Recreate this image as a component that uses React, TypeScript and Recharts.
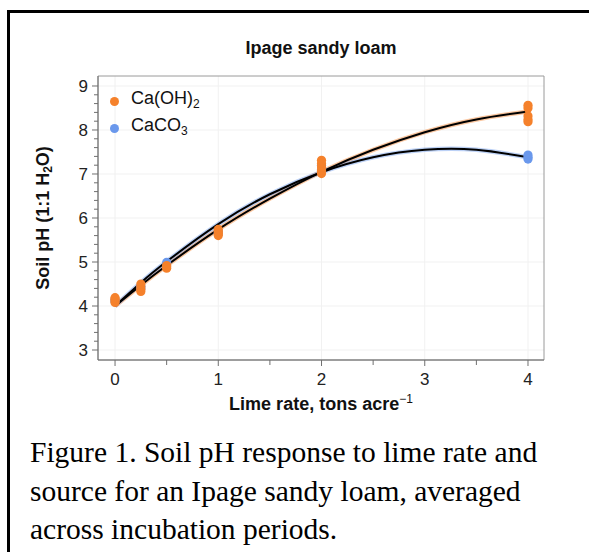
import React from "react";
import {
  CartesianGrid,
  ComposedChart,
  Line,
  ReferenceArea,
  Scatter,
  XAxis,
  YAxis
} from "recharts";

// lime rates (tons/acre) and replicate pH readings
const limeRates = [0, 0.25, 0.5, 1, 2, 4];
const caohReps = [
  [4.08, 4.12, 4.16, 4.19],
  [4.33, 4.38, 4.44, 4.5],
  [4.86, 4.89, 4.92],
  [5.6, 5.64, 5.69, 5.74],
  [7.01, 7.08, 7.16, 7.24, 7.31],
  [8.19, 8.24, 8.32, 8.5, 8.56]
];
const caco3Reps = [
  [4.1, 4.15],
  [4.4, 4.45],
  [4.99],
  [5.65, 5.7],
  [7.1, 7.2],
  [7.34, 7.38, 7.43]
];

// fitted curves
const fitRates = [0, 0.25, 0.5, 1, 1.5, 2, 2.5, 3, 3.5, 4];
const caohFit = [4.0, 4.47, 4.92, 5.74, 6.44, 7.05, 7.55, 7.95, 8.24, 8.42];
const caco3Fit = [4.0, 4.53, 5.01, 5.86, 6.54, 7.04, 7.38, 7.55, 7.55, 7.38];

const xMajor = [0, 1, 2, 3, 4];
const xTicks = [0, 0.5, 1, 1.5, 2, 2.5, 3, 3.5, 4];
const yMajor = [3, 4, 5, 6, 7, 8, 9];
const yTicks = [3, 3.2, 3.4, 3.6, 3.8, 4, 4.2, 4.4, 4.6, 4.8, 5, 5.2, 5.4, 5.6, 5.8, 6, 6.2, 6.4, 6.6, 6.8, 7, 7.2, 7.4, 7.6, 7.8, 8, 8.2, 8.4, 8.6, 8.8, 9];

const ORANGE = "#F5812B";
const BLUE = "#6A98EC";
const AXIS = "#6f6f6f";
const FONT = "'Liberation Sans', Arial, sans-serif";

const toPoints = (reps: number[][]) =>
  reps.flatMap((vals, i) => vals.map((y) => ({ x: limeRates[i], y })));
const toCurve = (vals: number[]) => fitRates.map((x, i) => ({ x, y: vals[i] }));

const caohPoints = toPoints(caohReps);
const caco3Points = toPoints(caco3Reps);
const caohCurve = toCurve(caohFit);
const caco3Curve = toCurve(caco3Fit);

const isMajor = (v: number, majors: number[]) => majors.some((m) => Math.abs(m - v) < 1e-6);

const YTick = (props: any) => {
  const { x, y, payload } = props;
  const major = isMajor(payload.value, yMajor);
  return (
    <g>
      <line x1={x - (major ? 6 : 4)} x2={x} y1={y} y2={y} stroke={AXIS} strokeWidth={1} />
      {major && (
        <text x={x - 10} y={y} dy={6} textAnchor="end" style={{ fontSize: 17, fontFamily: FONT }} fill="#222">
          {payload.value}
        </text>
      )}
    </g>
  );
};

const XTick = (props: any) => {
  const { x, y, payload } = props;
  const major = isMajor(payload.value, xMajor);
  return (
    <g>
      <line x1={x} x2={x} y1={y} y2={y + (major ? 6 : 5)} stroke={AXIS} strokeWidth={1} />
      {major && (
        <text x={x} y={y + 25} textAnchor="middle" style={{ fontSize: 17, fontFamily: FONT }} fill="#222">
          {payload.value}
        </text>
      )}
    </g>
  );
};

const dot = (color: string) => (p: any) => <circle cx={p.cx} cy={p.cy} r={4.6} fill={color} />;

export default function App() {
  return (
    <div style={{ position: "absolute", left: 0, top: 0, width: 589, height: 552, background: "#fff", overflow: "hidden" }}>
      <div
        style={{
          position: "absolute",
          left: 7,
          top: 10,
          width: 600,
          height: 560,
          borderLeft: "3px solid #000",
          borderTop: "3px solid #000"
        }}
      />
      <div style={{ position: "absolute", left: 0, top: 0 }}>
        <ComposedChart width={589} height={420} margin={{ top: 76, right: 45, left: 58, bottom: 30 }}>
          <CartesianGrid
            stroke="#f1f1f1"
            horizontalValues={yMajor}
            verticalValues={xMajor}
          />
          <ReferenceArea x1={-0.165} x2={4.155} y1={2.773} y2={9.227} fill="none" stroke="#9a9a9a" strokeWidth={1} />
          <XAxis
            type="number"
            dataKey="x"
            domain={[-0.165, 4.155]}
            ticks={xTicks}
            allowDataOverflow
            height={30}
            tickSize={0}
            tickMargin={0}
            tickLine={false}
            stroke={AXIS}
            tick={<XTick />}
            interval={0}
          />
          <YAxis
            type="number"
            dataKey="y"
            domain={[2.773, 9.227]}
            ticks={yTicks}
            allowDataOverflow
            width={40}
            tickSize={0}
            tickMargin={0}
            tickLine={false}
            stroke={AXIS}
            tick={<YTick />}
            interval={0}
          />
          <Scatter data={caco3Points} dataKey="y" shape={dot(BLUE)} isAnimationActive={false} />
          <Scatter data={caohPoints} dataKey="y" shape={dot(ORANGE)} isAnimationActive={false} />
          <Line data={caohCurve} dataKey="y" type="natural" stroke={ORANGE} strokeOpacity={0.45} strokeWidth={4.5} dot={false} activeDot={false} isAnimationActive={false} />
          <Line data={caco3Curve} dataKey="y" type="natural" stroke={BLUE} strokeOpacity={0.45} strokeWidth={4.5} dot={false} activeDot={false} isAnimationActive={false} />
          <Line data={caohCurve} dataKey="y" type="natural" stroke="#000" strokeWidth={2} dot={false} activeDot={false} isAnimationActive={false} />
          <Line data={caco3Curve} dataKey="y" type="natural" stroke="#000" strokeWidth={2} dot={false} activeDot={false} isAnimationActive={false} />
        </ComposedChart>
      </div>

      {/* title */}
      <div style={{ position: "absolute", left: 0, width: 642, top: 38, textAlign: "center", fontFamily: FONT, fontWeight: "bold", fontSize: 18, color: "#111" }}>
        Ipage sandy loam
      </div>

      {/* legend */}
      <div style={{ position: "absolute", left: 110, top: 88, fontFamily: FONT, fontSize: 18, color: "#111", lineHeight: "21px" }}>
        <div style={{ display: "flex", alignItems: "center" }}>
          <span style={{ display: "inline-block", width: 9, height: 9, borderRadius: 5, background: ORANGE, marginRight: 12 }} />
          <span>Ca(OH)<sub style={{ fontSize: 12, verticalAlign: "-4px" }}>2</sub></span>
        </div>
        <div style={{ display: "flex", alignItems: "center" }}>
          <span style={{ display: "inline-block", width: 9, height: 9, borderRadius: 5, background: BLUE, marginRight: 12 }} />
          <span>CaCO<sub style={{ fontSize: 12, verticalAlign: "-4px" }}>3</sub></span>
        </div>
      </div>

      {/* y label */}
      <div
        style={{
          position: "absolute",
          left: 45,
          top: 218,
          transform: "translate(-50%, -50%) rotate(-90deg)",
          whiteSpace: "nowrap",
          fontFamily: FONT,
          fontWeight: "bold",
          fontSize: 18,
          lineHeight: "20px",
          color: "#111"
        }}
      >
        Soil pH (1:1 H<sub style={{ fontSize: 12, verticalAlign: "-3px" }}>2</sub>O)
      </div>

      {/* x label */}
      <div style={{ position: "absolute", left: 0, width: 642, top: 392, textAlign: "center", fontFamily: FONT, fontWeight: "bold", fontSize: 18, color: "#111", whiteSpace: "nowrap" }}>
        Lime rate, tons acre<sup style={{ fontSize: 12, verticalAlign: "7px", fontWeight: "normal" }}>−1</sup>
      </div>

      {/* caption */}
      <div
        style={{
          position: "absolute",
          left: 30,
          top: 433,
          width: 540,
          fontFamily: "'Liberation Serif', 'Times New Roman', serif",
          fontSize: 29.5,
          lineHeight: "38.5px",
          color: "#000"
        }}
      >
        Figure 1. Soil pH response to lime rate and source for an Ipage sandy loam, averaged across incubation periods.
      </div>
    </div>
  );
}
